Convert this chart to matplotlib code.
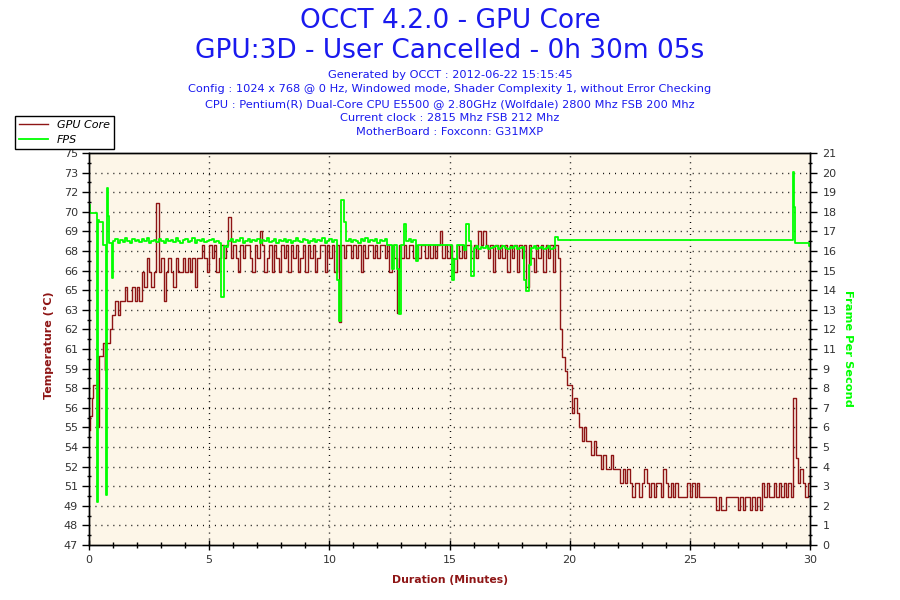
import numpy as np
import matplotlib
matplotlib.use("Agg")
import matplotlib.pyplot as plt
from matplotlib.ticker import FixedLocator, MultipleLocator

# sample spacing of the logged series (minutes)
SAMPLE_STEP = 0.1

# GPU core temperature: irregular warm-up points, then evenly sampled segments
temp_warm_t = [0.04, 0.06, 0.11, 0.15, 0.32, 0.38, 0.40, 0.58, 0.65, 0.68, 0.72, 0.86, 0.95]
temp_warm = [55.2, 56.2, 57.5, 58.4, 60.5, 55.4, 60.5, 61.4, 59.5, 60.5, 61.4, 62.4, 63.4]

temp_ramp_start = 1.0
temp_ramp = [
    63.4, 64.45, 63.4, 64.45, 64.45, 65.4, 64.45, 64.45, 65.4, 64.45,
    65.4, 64.45, 66.5, 65.4, 67.5, 66.5, 65.4, 66.5, 71.4, 66.5,
    67.5, 64.45, 66.5, 67.5, 66.5, 65.4, 67.5, 66.5, 66.5, 67.5,
    66.5, 67.5, 66.5, 67.5, 65.4, 67.5,
]

temp_load_start = 4.6
temp_load = [
    67.5, 68.4, 67.5, 66.5,
    68.4, 67.5, 68.4, 66.5, 67.5, 68.4, 67.5, 68.4, 70.45, 67.5,
    68.4, 67.5, 66.5, 68.4, 67.5, 68.4, 68.4, 67.5, 66.5, 68.4,
    67.5, 69.4, 68.4, 66.5, 67.5, 68.4, 66.5, 68.4, 67.5, 66.5,
    68.4, 67.5, 68.4, 66.5, 68.4, 67.5, 68.4, 66.5, 67.5, 68.4,
    66.5, 68.4, 67.5, 68.4, 66.5, 67.5, 68.4, 68.4, 66.5, 68.4,
    67.5, 68.4, 66.5, 68.4, 62.9, 68.4, 67.5, 68.4, 68.4, 67.5,
    68.4, 67.5, 68.4, 66.5, 68.4, 67.5, 68.4, 68.4, 67.5, 68.4,
    67.5, 68.4, 68.4, 67.5, 68.4, 66.5, 68.4, 67.5, 63.6, 68.4,
    67.5, 68.4, 67.5, 68.4, 68.4, 67.5, 68.4, 67.5, 68.4, 68.4,
    67.5, 68.4, 67.5, 68.4, 67.5, 68.4, 69.4, 67.5, 68.4, 67.5,
    68.4, 67.5, 66.5, 68.4, 67.5, 68.4, 67.5, 68.4, 68.4, 67.5,
    68.4, 67.5, 69.4, 68.4, 69.4, 68.4, 67.5, 68.4, 66.5, 68.4,
    67.5, 68.4, 67.5, 68.4, 66.5, 68.4, 67.5, 68.4, 66.5, 68.4,
    67.5, 68.4, 65.4, 68.4, 67.5, 66.5, 68.4, 67.5, 68.4, 66.5,
    68.4, 67.5, 68.4, 66.5, 68.4, 67.5,
]

temp_cool_start = 19.6
temp_cool = [
    62.4, 60.45, 59.4, 58.4,
    58.4, 56.4, 57.5, 56.4, 55.45, 54.4, 55.45, 54.4, 54.4, 53.4,
    54.4, 53.4, 53.4, 52.4, 53.4, 52.4, 52.4, 53.4, 52.4, 52.4,
    52.4, 51.4, 52.4, 51.4, 52.4, 51.4, 50.45, 51.4, 51.4, 50.45,
    51.4, 52.4, 51.4, 50.45, 51.4, 50.45, 51.4, 51.4, 50.45, 52.4,
    51.4, 50.45, 51.4, 50.45, 51.4, 50.45, 50.45, 50.45, 50.45, 51.4,
    50.45, 51.4, 50.45, 51.4, 50.45, 50.45, 50.45, 50.45, 50.45, 50.45,
    50.45, 49.5, 50.45, 49.5, 49.5, 50.45, 50.45, 50.45, 50.45, 50.45,
    49.5, 50.45, 49.5, 50.45, 50.45, 49.5, 50.45, 49.5, 50.45, 49.5,
    51.4, 50.45, 51.4, 50.45, 50.45, 51.4, 50.45, 51.4, 50.45, 51.4,
    50.45, 51.4, 50.45, 57.5, 53.2, 51.4, 52.4, 51.4, 50.45, 51.4,
]
temp_end_t = 30.0
temp_end = 55.45

# FPS: irregular start, evenly sampled run, then a few last changes
fps_start_t = [0.03, 0.06, 0.35, 0.39, 0.42, 0.57, 0.70, 0.74, 0.79, 0.84, 0.94, 0.98]
fps_start = [18.2, 17.8, 2.3, 17.4, 17.3, 16.07, 2.7, 19.1, 17.6, 16.16, 14.3, 16.07]

fps_run_start = 1.0
fps_run = [
    16.3, 16.4, 16.2, 16.35, 16.25, 16.45, 16.3, 16.2, 16.4, 16.3,
    16.35, 16.25, 16.4, 16.3, 16.45, 16.2, 16.3, 16.35, 16.25, 16.4,
    16.3, 16.2, 16.4, 16.3, 16.35, 16.25, 16.45, 16.3, 16.2, 16.35,
    16.4, 16.25, 16.3, 16.45, 16.2, 16.35, 16.3, 16.4, 16.25, 16.3,
    16.35, 16.4, 16.25, 16.3, 16.2, 13.3, 16.0, 15.95, 16.3, 16.4,
    16.25, 16.35, 16.3, 16.45, 16.2, 16.3, 16.4, 16.25, 16.35, 16.3,
    16.4, 16.2, 16.35, 16.3, 16.45, 16.25, 16.3, 16.4, 16.2, 16.35,
    16.3, 16.4, 16.25, 16.35, 16.2, 16.3, 16.45, 16.3, 16.25, 16.4,
    16.35, 16.2, 16.3, 16.4, 16.25, 16.35, 16.3, 16.45, 16.2, 16.3,
    16.4, 16.25, 16.35, 14.2, 12.0, 18.5, 17.3, 16.3, 16.4, 16.25,
    16.35, 16.3, 16.2, 16.4, 16.3, 16.45, 16.25, 16.35, 16.3, 16.4,
    16.2, 16.35, 16.3, 16.4, 16.07, 16.07, 14.8, 16.07, 14.8, 12.4,
    16.07, 17.2, 16.3, 16.4, 16.25, 16.35, 15.2, 16.07, 16.07, 16.07,
    16.07, 16.07, 16.07, 16.07, 16.07, 16.07, 16.07, 16.07, 16.07, 16.07,
    16.07, 14.2, 15.3, 16.07, 16.07, 16.07, 15.8, 17.2, 16.3, 14.4,
    15.9, 16.0, 15.85, 15.95, 15.9, 16.0, 15.85, 15.9, 15.95, 16.0,
    15.85, 15.9, 16.0, 15.9, 15.85, 15.95, 15.9, 16.0, 15.85, 15.9,
    15.95, 14.2, 13.6, 15.0, 15.9, 16.0, 15.85, 15.9, 15.95, 15.85,
    15.9, 16.0, 15.85, 15.9, 16.5, 16.35,
]
fps_tail_t = [19.6, 29.3, 29.32, 29.36, 29.95, 30.0]
fps_tail = [16.34, 20.0, 18.1, 16.16, 16.02, 16.02]

# axis labels exactly as printed on the chart
temp_tick_labels = ["47", "48", "49", "51", "52", "54", "55", "56", "58", "59", "61",
                    "62", "63", "65", "66", "68", "69", "70", "72", "73", "75"]
fps_tick_labels = ["0", "1", "2", "3", "4", "5", "6", "7", "8", "9", "11",
                   "12", "13", "14", "15", "16", "17", "18", "19", "20", "21"]
x_ticks = [0, 5, 10, 15, 20, 25, 30]

title_lines = ["OCCT 4.2.0 - GPU Core", "GPU:3D - User Cancelled - 0h 30m 05s"]
info_lines = [
    "Generated by OCCT : 2012-06-22 15:15:45",
    "Config : 1024 x 768 @ 0 Hz, Windowed mode, Shader Complexity 1, without Error Checking",
    "CPU : Pentium(R) Dual-Core CPU E5500 @ 2.80GHz (Wolfdale) 2800 Mhz FSB 200 Mhz",
    "Current clock : 2815 Mhz FSB 212 Mhz",
    "MotherBoard : Foxconn: G31MXP",
]


def sampled_times(start, values):
    return start + SAMPLE_STEP * np.arange(len(values))


temp_t = np.concatenate([temp_warm_t,
                         sampled_times(temp_ramp_start, temp_ramp),
                         sampled_times(temp_load_start, temp_load),
                         sampled_times(temp_cool_start, temp_cool),
                         [temp_end_t]])
temp_v = np.concatenate([temp_warm, temp_ramp, temp_load, temp_cool, [temp_end]])

fps_t = np.concatenate([fps_start_t, sampled_times(fps_run_start, fps_run), fps_tail_t])
fps_v = np.concatenate([fps_start, fps_run, fps_tail])

RED = "#8e1515"
GREEN = "#00ff00"
BLUE = "#1a1aee"
TICK_TXT = "#333333"
BG = "#fdf6e8"

fig = plt.figure(figsize=(9, 6), dpi=100)
fig.patch.set_facecolor("white")
ax = fig.add_axes([89 / 900, 55 / 600, 721 / 900, 392 / 600])
ax.set_facecolor(BG)
ax2 = ax.twinx()

ax.plot(temp_t, temp_v, color=RED, lw=1.0, drawstyle="steps-post", label="GPU Core")
ax2.plot(fps_t, fps_v, color=GREEN, lw=1.3, drawstyle="steps-post", label="FPS")

ax.set_xlim(0, 30)
ax.set_ylim(47, 75)
ax2.set_ylim(0, 21)

temp_ticks = np.linspace(47, 75, len(temp_tick_labels))
fps_ticks = np.linspace(0, 21, len(fps_tick_labels))
ax.set_yticks(temp_ticks)
ax.set_yticklabels(temp_tick_labels)
ax.yaxis.set_minor_locator(FixedLocator((temp_ticks[:-1] + temp_ticks[1:]) / 2))
ax2.set_yticks(fps_ticks)
ax2.set_yticklabels(fps_tick_labels)
ax2.yaxis.set_minor_locator(FixedLocator((fps_ticks[:-1] + fps_ticks[1:]) / 2))
ax.set_xticks(x_ticks)
ax.xaxis.set_minor_locator(MultipleLocator(1))

# dotted grid, horizontal at every label, vertical every 5 minutes
dots = (0, (0.7, 3.6))
for y in temp_ticks[1:-1]:
    ax.axhline(y, color="black", lw=1, linestyle=dots, zorder=0.5)
for x in x_ticks[1:-1]:
    ax.axvline(x, color="black", lw=1, linestyle=dots, zorder=0.5)

ax.tick_params(axis="y", which="major", direction="out", length=5, width=1,
               labelsize=8, labelcolor=TICK_TXT, pad=3)
ax.tick_params(axis="y", which="minor", direction="inout", length=3.5, width=1)
ax.tick_params(axis="x", which="major", direction="inout", length=7, width=1,
               labelsize=8, labelcolor=TICK_TXT, pad=4)
ax.tick_params(axis="x", which="minor", direction="inout", length=5, width=1)
ax2.tick_params(axis="y", which="major", direction="out", length=5, width=1,
                labelsize=8, labelcolor=TICK_TXT, pad=4)
ax2.tick_params(axis="y", which="minor", direction="inout", length=3.5, width=1)

for a in (ax, ax2):
    for s in a.spines.values():
        s.set_color("black")
        s.set_linewidth(1)

fig.text(0.5, 1 - 21 / 600, title_lines[0], ha="center", va="center",
         fontsize=19, color=BLUE)
fig.text(0.5, 1 - 51 / 600, title_lines[1], ha="center", va="center",
         fontsize=19, color=BLUE)
for i, line in enumerate(info_lines):
    fig.text(0.5, 1 - (75 + 14.3 * i) / 600, line, ha="center", va="center",
             fontsize=8.2, color=BLUE)

fig.text(49 / 900, 1 - 345 / 600, "Temperature (°C)", rotation=90, ha="center",
         va="center", fontsize=8, fontweight="bold", color=RED)
fig.text(848 / 900, 1 - 348 / 600, "Frame Per Second", rotation=270, ha="center",
         va="center", fontsize=8.2, fontweight="bold", color=GREEN)
fig.text(450 / 900, 1 - 580 / 600, "Duration (Minutes)", ha="center",
         va="center", fontsize=7.8, fontweight="bold", color=RED)

h1, l1 = ax.get_legend_handles_labels()
h2, l2 = ax2.get_legend_handles_labels()
leg = fig.legend(h1 + h2, l1 + l2, loc="upper left",
                 bbox_to_anchor=(15 / 900, 1 - 116 / 600), borderaxespad=0,
                 fancybox=False, framealpha=1, edgecolor="black",
                 prop={"style": "italic", "size": 8}, handlelength=2.6,
                 handletextpad=0.8, borderpad=0.35, labelspacing=0.45)
leg.get_frame().set_linewidth(1)

fig.savefig("out.png", dpi=100)
